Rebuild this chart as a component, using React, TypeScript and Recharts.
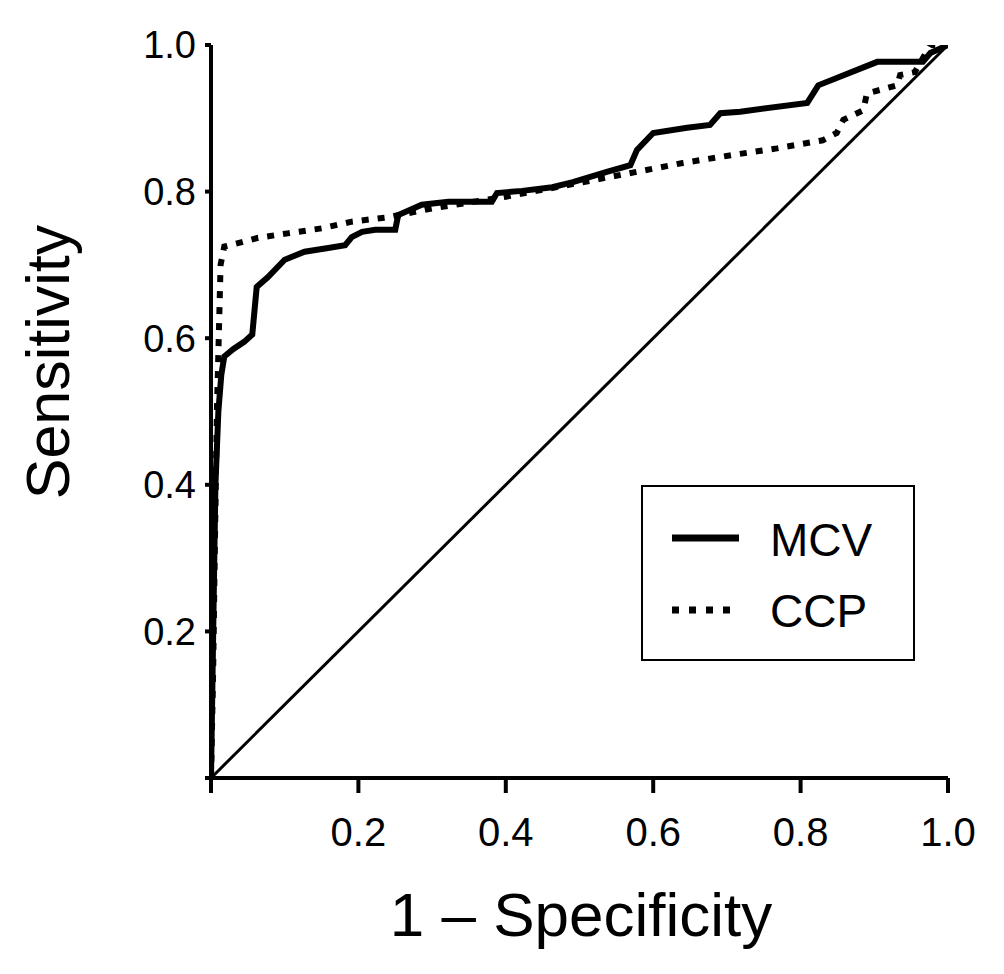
import { LineChart, Line, XAxis, YAxis } from 'recharts';

// ROC curves (x = 1 - specificity, y = sensitivity)
const mcvFpr = [0, 0.003, 0.006, 0.01, 0.014, 0.018, 0.03, 0.045, 0.056, 0.062, 0.077, 0.1, 0.127, 0.159, 0.182, 0.191, 0.205, 0.223, 0.25, 0.254, 0.286, 0.322, 0.381, 0.388, 0.422, 0.463, 0.491, 0.537, 0.569, 0.578, 0.6, 0.646, 0.677, 0.691, 0.718, 0.809, 0.824, 0.904, 0.966, 0.976, 1];
const mcvTpr = [0, 0.2, 0.4, 0.5, 0.55, 0.575, 0.585, 0.595, 0.605, 0.67, 0.683, 0.707, 0.718, 0.723, 0.727, 0.738, 0.745, 0.748, 0.748, 0.768, 0.782, 0.786, 0.786, 0.798, 0.801, 0.806, 0.813, 0.827, 0.836, 0.857, 0.88, 0.887, 0.891, 0.907, 0.909, 0.921, 0.945, 0.977, 0.977, 0.989, 1];

const ccpFpr = [0, 0.003, 0.005, 0.008, 0.011, 0.013, 0.018, 0.042, 0.064, 0.104, 0.151, 0.191, 0.24, 0.3, 0.4, 0.5, 0.578, 0.64, 0.708, 0.768, 0.83, 0.849, 0.858, 0.885, 0.89, 0.931, 0.935, 0.955, 0.976, 1];
const ccpTpr = [0, 0.15, 0.3, 0.5, 0.62, 0.7, 0.725, 0.731, 0.737, 0.743, 0.75, 0.759, 0.765, 0.777, 0.793, 0.812, 0.827, 0.839, 0.85, 0.859, 0.87, 0.88, 0.898, 0.911, 0.934, 0.945, 0.959, 0.963, 1, 1];

const refFpr = [0, 1];
const refTpr = [0, 1];

const ticks = [0, 0.2, 0.4, 0.6, 0.8, 1];

const zip = (xs: number[], ys: number[]) => xs.map((x, i) => ({ x, y: ys[i] }));
const mcv = zip(mcvFpr, mcvTpr);
const ccp = zip(ccpFpr, ccpTpr);
const ref = zip(refFpr, refTpr);

const font = '"Liberation Sans", Arial, sans-serif';
const fmt = (v: number) => (v === 0 ? '' : v.toFixed(1));

function LegendBox() {
  return (
    <div
      style={{
        position: 'absolute',
        left: 633,
        top: 477,
        width: 274,
        height: 176,
        border: '2px solid #000',
        boxSizing: 'border-box',
        background: '#fff',
      }}
    >
      <svg width={270} height={172} style={{ display: 'block' }}>
        <line x1={29} x2={96} y1={51} y2={51} stroke="#000" strokeWidth={7} />
        <text x={127} y={69} fontSize={46} fontFamily={font} fill="#000">MCV</text>
        <line x1={29} x2={96} y1={123} y2={123} stroke="#000" strokeWidth={7} strokeDasharray="7 10" />
        <text x={127} y={140} fontSize={46} fontFamily={font} fill="#000">CCP</text>
      </svg>
    </div>
  );
}

export default function App() {
  return (
    <div style={{ position: 'relative', width: 996, height: 966 }}>
      <LineChart width={996} height={966} margin={{ top: 37, right: 56, bottom: 0, left: 0 }}>
        <XAxis
          dataKey="x"
          type="number"
          domain={[0, 1]}
          ticks={ticks}
          tickFormatter={fmt}
          height={196}
          tickSize={15}
          tickMargin={25}
          axisLine={{ stroke: '#000', strokeWidth: 4 }}
          tickLine={{ stroke: '#000', strokeWidth: 4 }}
          tick={{ fill: '#000', fontSize: 40, fontFamily: font }}
          allowDataOverflow
          label={{
            content: (props: any) => {
              const vb = props.viewBox;
              return (
                <text x={573} y={vb.y + 158} textAnchor="middle" fontSize={62} fontFamily={font} fill="#000">
                  1 – Specificity
                </text>
              );
            },
          }}
        />
        <YAxis
          dataKey="y"
          type="number"
          domain={[0, 1]}
          ticks={ticks}
          tickFormatter={fmt}
          width={203}
          tickSize={6}
          tickMargin={9}
          axisLine={{ stroke: '#000', strokeWidth: 4 }}
          tickLine={{ stroke: '#000', strokeWidth: 4 }}
          tick={{ fill: '#000', fontSize: 38, fontFamily: font }}
          allowDataOverflow
          label={{
            content: () => (
              <text
                x={0}
                y={0}
                transform="translate(61, 354) rotate(-90)"
                textAnchor="middle"
                fontSize={61}
                fontFamily={font}
                fill="#000"
              >
                Sensitivity
              </text>
            ),
          }}
        />
        <Line data={ref} dataKey="y" type="linear" stroke="#000" strokeWidth={3} dot={false} activeDot={false} isAnimationActive={false} />
        <Line data={ccp} dataKey="y" name="CCP" type="linear" stroke="#000" strokeWidth={6} strokeDasharray="7 9" dot={false} activeDot={false} isAnimationActive={false} />
        <Line data={mcv} dataKey="y" name="MCV" type="linear" stroke="#000" strokeWidth={6} dot={false} activeDot={false} isAnimationActive={false} />
      </LineChart>
      <LegendBox />
    </div>
  );
}
